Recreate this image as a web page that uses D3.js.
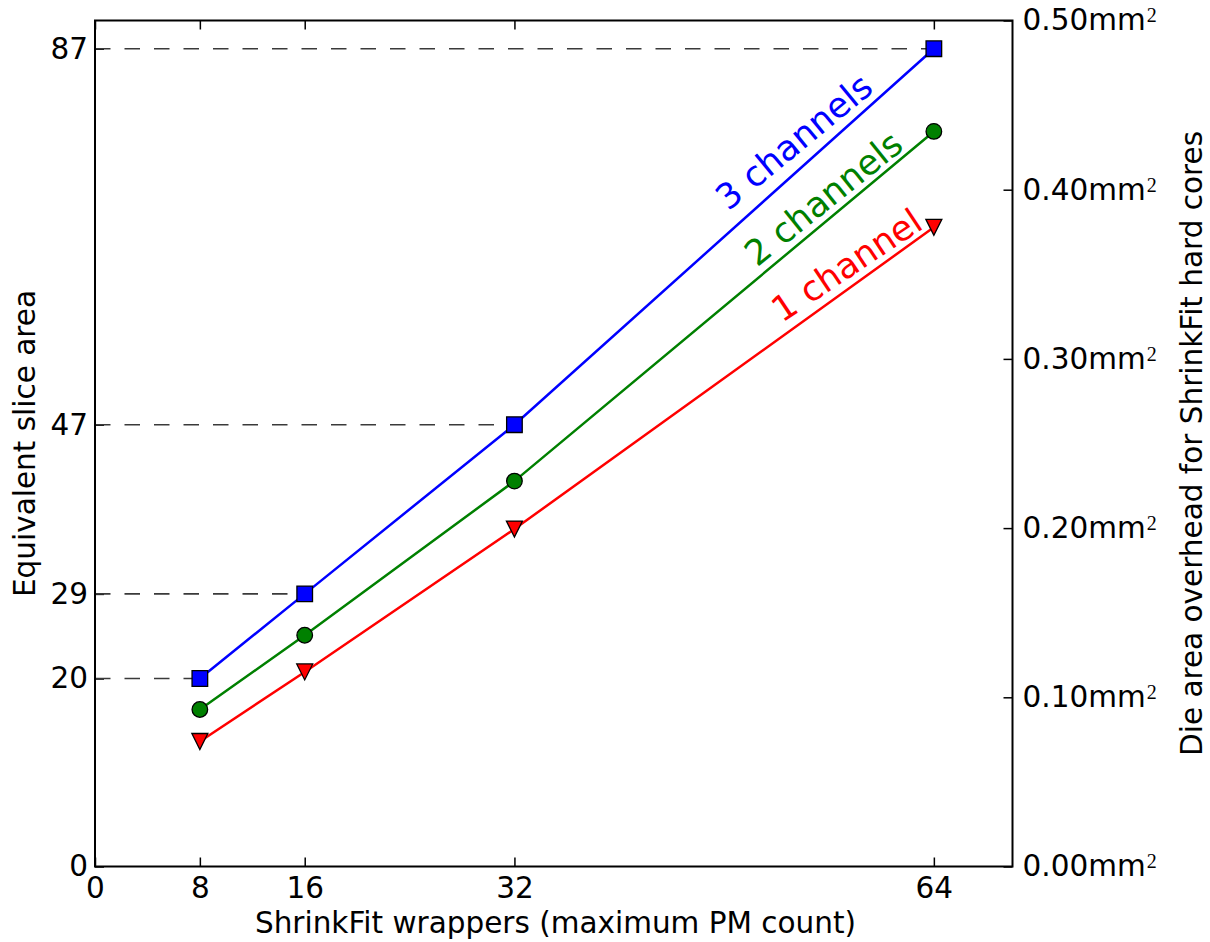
<!DOCTYPE html>
<html>
<head>
<meta charset="utf-8">
<script src="https://cdn.jsdelivr.net/npm/d3@7"></script>
<style>
  html, body { margin: 0; padding: 0; background: #fff; }
  svg { display: block; font-family: "DejaVu Sans", sans-serif; }
</style>
</head>
<body>
<svg id="chart" width="1210" height="942"></svg>
<script>
// Wrapper counts (x) and equivalent slice area per configuration (left axis units)
const wrapperCounts = [8, 16, 32, 64];
const threeChannels = [20, 29, 47, 87];
const twoChannels = [16.7, 24.6, 41.0, 78.2];
const oneChannel = [13.3, 20.7, 35.9, 68.0];
const seriesNames = ["3 channels", "2 channels", "1 channel"];

// Tick values
const xTickValues = [0, 8, 16, 32, 64];
const sliceTickValues = [0, 20, 29, 47, 87];
const areaTickValues = [0, 0.1, 0.2, 0.3, 0.4, 0.5];

const svg = d3.select("#chart");
const plot = { left: 95, right: 1012.5, top: 20.5, bottom: 866.5 };
const fontMain = 29.5;

const x = d3.scaleLinear().domain([0, 70]).range([plot.left, plot.right]);
const ySlice = d3.scaleLinear().domain([0, 90]).range([plot.bottom, plot.top]);
const yArea = d3.scaleLinear().domain([0, 0.5]).range([plot.bottom, plot.top]);

const series = [
  { name: seriesNames[0], values: threeChannels, color: "#0000ff", marker: "square",   labelAt: 54.5, lift: 12, angle: 39.5 },
  { name: seriesNames[1], values: twoChannels,   color: "#008000", marker: "circle",   labelAt: 56.5, lift: 7,  angle: 38.8 },
  { name: seriesNames[2], values: oneChannel,    color: "#ff0000", marker: "triangle", labelAt: 58.2, lift: 8,  angle: 33.8 }
];

function styleAxis(g) {
  g.select(".domain").remove();
  g.attr("font-size", fontMain).attr("font-family", "DejaVu Sans, sans-serif");
  g.selectAll(".tick line").attr("stroke", "#000").attr("stroke-width", 1.5);
  g.selectAll(".tick text").attr("fill", "#000");
}

// Bottom axis with labels, top axis with ticks only
svg.append("g")
  .attr("transform", `translate(0,${plot.bottom})`)
  .call(d3.axisBottom(x).tickValues(xTickValues).tickFormat(d3.format("d"))
    .tickSizeInner(-9).tickSizeOuter(0).tickPadding(11))
  .call(styleAxis);

svg.append("g")
  .attr("transform", `translate(0,${plot.top})`)
  .call(d3.axisTop(x).tickValues(xTickValues).tickFormat("")
    .tickSizeInner(-9).tickSizeOuter(0))
  .call(styleAxis);

// Left axis: equivalent slice area
svg.append("g")
  .attr("transform", `translate(${plot.left},0)`)
  .call(d3.axisLeft(ySlice).tickValues(sliceTickValues).tickFormat(d3.format("d"))
    .tickSizeInner(-9).tickSizeOuter(0).tickPadding(7))
  .call(styleAxis);

// Right axis: die area in mm^2
const fmtArea = d3.format(".2f");
const rightAxis = svg.append("g")
  .attr("transform", `translate(${plot.right},0)`)
  .call(d3.axisRight(yArea).tickValues(areaTickValues).tickFormat(d => fmtArea(d) + "mm")
    .tickSizeInner(-9).tickSizeOuter(0).tickPadding(10))
  .call(styleAxis);
rightAxis.selectAll(".tick text")
  .append("tspan")
  .attr("dy", -8)
  .attr("dx", 1)
  .attr("font-size", 20)
  .attr("font-family", "Liberation Serif, DejaVu Serif, serif")
  .text("2");

// Dashed guides from the left axis to each 3-channel point
svg.append("g")
  .selectAll("line")
  .data(wrapperCounts.map((w, i) => ({ w, v: threeChannels[i] })))
  .join("line")
  .attr("x1", x(0))
  .attr("x2", d => x(d.w))
  .attr("y1", d => ySlice(d.v))
  .attr("y2", d => ySlice(d.v))
  .attr("stroke", "#3a3a3a")
  .attr("stroke-width", 1.6)
  .attr("stroke-dasharray", "15.5,14");

// Series lines
const line = d3.line().x(d => x(d.w)).y(d => ySlice(d.v));
series.forEach(s => {
  s.points = wrapperCounts.map((w, i) => ({ w, v: s.values[i] }));
  svg.append("path")
    .datum(s.points)
    .attr("d", line)
    .attr("fill", "none")
    .attr("stroke", s.color)
    .attr("stroke-width", 2.5);
});

// Markers
const markerPath = {
  square: "M-7.8,-7.8H7.8V7.8H-7.8Z",
  triangle: "M-8,-8L8,-8L0,8Z"
};
series.forEach(s => {
  const g = svg.append("g");
  if (s.marker === "circle") {
    g.selectAll("circle").data(s.points).join("circle")
      .attr("cx", d => x(d.w)).attr("cy", d => ySlice(d.v)).attr("r", 7.8)
      .attr("fill", s.color).attr("stroke", "#000").attr("stroke-width", 1.3);
  } else {
    g.selectAll("path").data(s.points).join("path")
      .attr("transform", d => `translate(${x(d.w)},${ySlice(d.v)})`)
      .attr("d", markerPath[s.marker])
      .attr("fill", s.color).attr("stroke", "#000").attr("stroke-width", 1.3);
  }
});

// Inline series labels along each line
series.forEach(s => {
  const along = d3.scaleLinear().domain(wrapperCounts).range(s.values);
  const px = x(s.labelAt), py = ySlice(along(s.labelAt));
  svg.append("text")
    .attr("transform", `translate(${px},${py}) rotate(${-s.angle})`)
    .attr("y", -s.lift)
    .attr("text-anchor", "middle")
    .attr("font-size", 35)
    .attr("fill", s.color)
    .text(s.name);
});

// Frame
svg.append("rect")
  .attr("x", plot.left).attr("y", plot.top)
  .attr("width", plot.right - plot.left).attr("height", plot.bottom - plot.top)
  .attr("fill", "none").attr("stroke", "#000").attr("stroke-width", 2);

// Axis titles
const midY = (plot.top + plot.bottom) / 2;
svg.append("text")
  .attr("x", 555.5).attr("y", 932.5)
  .attr("text-anchor", "middle").attr("font-size", fontMain)
  .text("ShrinkFit wrappers (maximum PM count)");
svg.append("text")
  .attr("transform", `translate(34.5,${midY}) rotate(-90)`)
  .attr("text-anchor", "middle").attr("font-size", fontMain)
  .text("Equivalent slice area");
svg.append("text")
  .attr("transform", `translate(1202,${midY}) rotate(-90)`)
  .attr("text-anchor", "middle").attr("font-size", fontMain)
  .text("Die area overhead for ShrinkFit hard cores");
</script>
</body>
</html>
